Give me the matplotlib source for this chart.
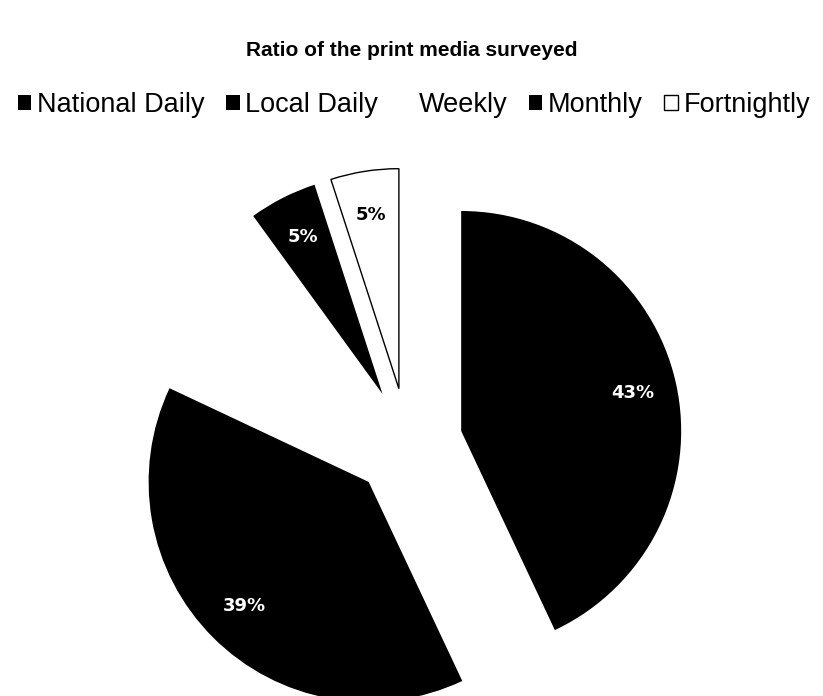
import matplotlib.pyplot as plt

labels = ['National Daily', 'Local Daily', 'Weekly', 'Monthly', 'Fortnightly']
values = [43, 39, 8, 5, 5]
colors = ['black', 'black', 'white', 'black', 'white']
label_colors = ['white', 'white', 'white', 'white', 'black']

plt.rcParams['font.family'] = ['Liberation Sans', 'DejaVu Sans']

fig = plt.figure(figsize=(8.23, 6.96), dpi=100)
ax = fig.add_axes([0, 0, 1, 1])

wedges, texts, autotexts = ax.pie(values, colors=colors, startangle=90, counterclock=False,
                                  explode=[0.25] * len(values), autopct='%d%%', pctdistance=0.8,
                                  wedgeprops=dict(linewidth=0))
wedges[4].set_edgecolor('black')
wedges[4].set_linewidth(1.0)

for t, c in zip(autotexts, label_colors):
    t.set_color(c)
    t.set_fontsize(13)
    t.set_fontweight('bold')
    t.set_family('DejaVu Sans')

# pie centre at about (407, 443) px, radius about 220 px
r = 220.0
cx, cy = 407.5, 443.0
ax.set_xlim(-cx / r, (823 - cx) / r)
ax.set_ylim(-(696 - cy) / r, cy / r)
ax.set_aspect('equal', adjustable='box')
ax.axis('off')

fig.text(0.5, 0.928, 'Ratio of the print media surveyed', ha='center', va='center',
         fontsize=15, fontweight='bold')

leg = fig.legend(wedges, labels, loc='center', bbox_to_anchor=(0.503, 0.849), ncol=5,
                 frameon=False, fontsize=19.5, handlelength=0.5, handleheight=0.5,
                 handletextpad=0.2, columnspacing=0.8)

plt.savefig('out.png', dpi=100)
